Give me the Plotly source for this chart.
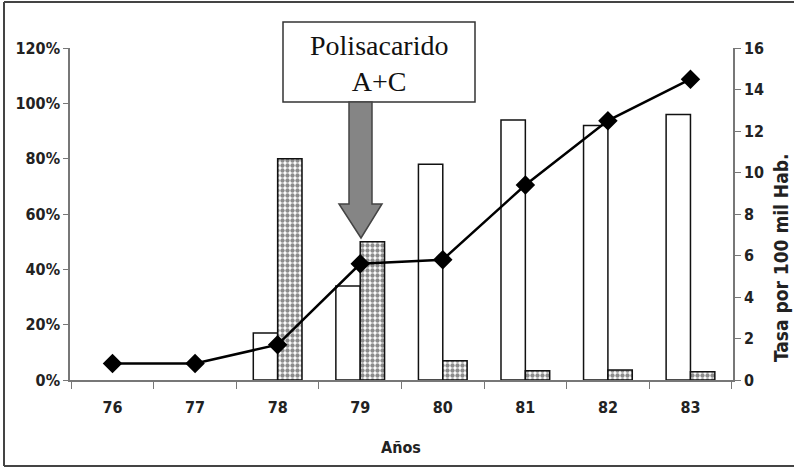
import plotly.graph_objects as go

# Years (x categories)
anios = ["76", "77", "78", "79", "80", "81", "82", "83"]
# Left axis: percentages per year (two bar series); no bars for 76-77
pct_blanco = [None, None, 17, 34, 78, 94, 92, 96]
pct_punteado = [None, None, 80, 50, 7, 3.3, 3.6, 3]
# Right axis: rate per 100 000 inhabitants
tasa = [0.8, 0.8, 1.7, 5.6, 5.8, 9.4, 12.5, 14.5]

W, H = 794, 468
L, R, T, B = 70, 61, 48, 88
PW, PH = W - L - R, H - T - B


def px(x):
    return (x - L) / PW


def py(y):
    return (H - B - y) / PH


SANS = "Liberation Sans Narrow, DejaVu Sans Condensed, Liberation Sans, Arial, sans-serif"
TICK_FONT = dict(family=SANS, size=16, color="#222", weight="bold")

fig = go.Figure()

fig.add_trace(go.Bar(
    x=anios, y=pct_blanco, name="blanco",
    marker=dict(color="white", line=dict(color="#111", width=1.5)),
))
fig.add_trace(go.Bar(
    x=anios, y=pct_punteado, name="punteado",
    marker=dict(
        color="white",
        line=dict(color="#111", width=1.5),
        pattern=dict(shape=".", fgcolor="#1a1a1a", bgcolor="white", size=5, solidity=0.6),
    ),
))
fig.add_trace(go.Scatter(
    x=anios, y=tasa, yaxis="y2", mode="lines+markers", name="tasa",
    line=dict(color="#000", width=2.5),
    marker=dict(symbol="diamond", size=15, color="#000"),
))

shapes = []
# outer frame (left, top, bottom)
frame = dict(type="line", xref="paper", yref="paper", line=dict(color="#444", width=2), layer="above")
shapes.append({**frame, "x0": px(4), "x1": px(4), "y0": py(2), "y1": py(466)})
shapes.append({**frame, "x0": px(4), "x1": px(794), "y0": py(2), "y1": py(2)})
shapes.append({**frame, "x0": px(4), "x1": px(794), "y0": py(466), "y1": py(466)})

# label box
shapes.append(dict(type="rect", xref="paper", yref="paper",
                   x0=px(283), x1=px(475), y0=py(102), y1=py(22),
                   fillcolor="white", line=dict(color="#333", width=1.5), layer="above"))

# block arrow pointing down
ax_path = "M {a},{b} L {c},{b} L {c},{d} L {e},{d} L {f},{g} L {h},{d} L {i},{d} L {i},{b} Z".format(
    a=px(349), b=py(102), c=px(372), d=py(204), e=px(382), f=px(361), g=py(238), h=px(339), i=px(349))
shapes.append(dict(type="path", xref="paper", yref="paper", path=ax_path,
                   fillcolor="#858585", line=dict(color="#444", width=1.5), layer="above"))

annotations = [
    dict(xref="paper", yref="paper", x=px(379), y=py(63), xanchor="center", yanchor="middle",
         text="Polisacarido<br>A+C", showarrow=False, align="center",
         font=dict(family="Liberation Serif, Times New Roman, serif", size=28, color="#111",
                   weight="normal")),
    dict(xref="paper", yref="paper", x=px(401), y=py(447), xanchor="center", yanchor="middle",
         text="Años", showarrow=False, font=TICK_FONT),
    dict(xref="paper", yref="paper", x=px(781), y=py(258), xanchor="center", yanchor="middle",
         text="Tasa por 100 mil Hab.", textangle=-90, showarrow=False,
         font=dict(family=SANS, size=19, color="#222", weight="bold")),
]

fig.update_layout(
    width=W, height=H,
    margin=dict(l=L, r=R, t=T, b=B),
    paper_bgcolor="white", plot_bgcolor="white",
    showlegend=False,
    barmode="group", bargap=0.41, bargroupgap=0,
    font=TICK_FONT,
    xaxis=dict(
        type="category", showline=True, linecolor="#777", linewidth=1.5,
        ticks="outside", ticklen=7, tickcolor="#777", tickson="boundaries",
        ticklabelstandoff=12, showgrid=False, tickfont=TICK_FONT,
    ),
    yaxis=dict(
        range=[0, 120], dtick=20, ticksuffix="%", showline=True, linecolor="#777", linewidth=1.5,
        ticks="outside", ticklen=5, tickcolor="#777", showgrid=False, zeroline=False,
        tickfont=TICK_FONT,
    ),
    yaxis2=dict(
        range=[0, 16], dtick=2, overlaying="y", side="right", showline=True, linecolor="#777", linewidth=1.5,
        ticks="outside", ticklen=6, tickcolor="#777", showgrid=False, zeroline=False,
        tickfont=TICK_FONT,
    ),
    shapes=shapes,
    annotations=annotations,
)

fig.write_html("out.html")
